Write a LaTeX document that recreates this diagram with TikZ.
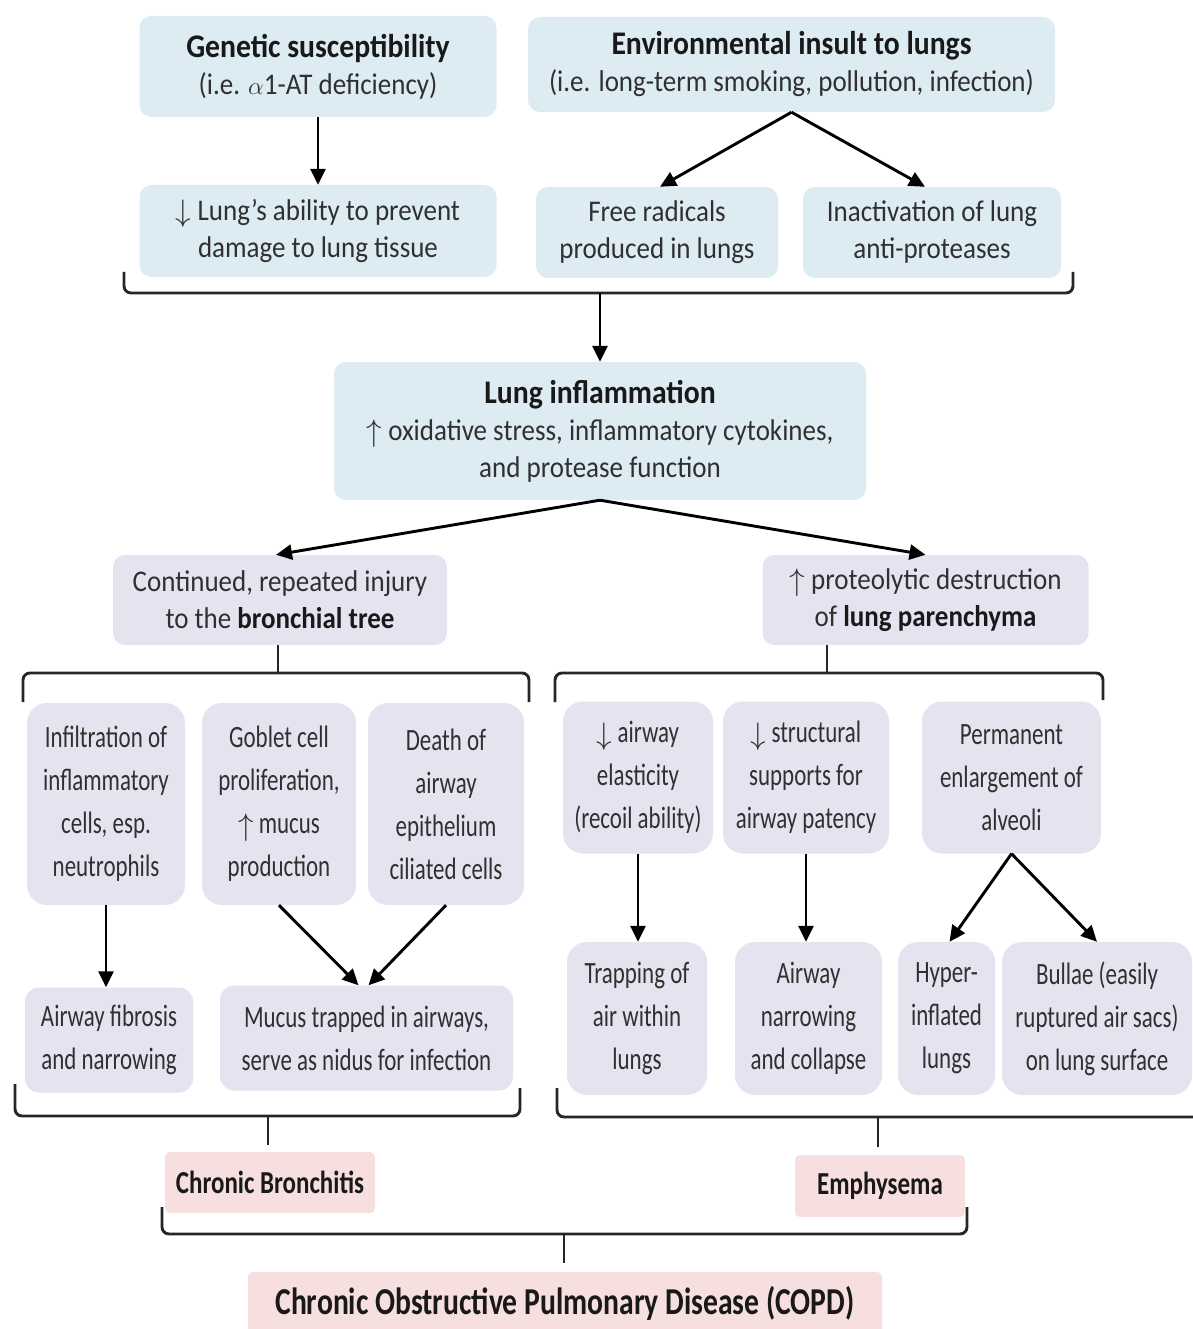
\documentclass[tikz,border=0pt]{standalone}
\usepackage{fontspec}
\setmainfont{Carlito}
\newfontfamily\topf[FakeStretch=0.9]{Carlito}
\newfontfamily\lowf[FakeStretch=0.74]{Carlito}
\newfontfamily\pinkf[FakeStretch=0.78]{Carlito}
\usetikzlibrary{arrows.meta,calc}
\definecolor{blueF}{RGB}{221,235,243}
\definecolor{lavF}{RGB}{229,227,239}
\definecolor{pinkF}{RGB}{247,223,223}
\definecolor{txt}{RGB}{48,48,48}
\definecolor{hdr}{RGB}{25,25,25}
\tikzset{
  topbox/.style={rounded corners=12pt, fill=blueF, draw=none, align=center, inner sep=0pt,
    font=\topf\fontsize{30}{37}\selectfont, text=txt},
  midbox/.style={topbox, fill=lavF},
  lowbox/.style={rounded corners=20pt, fill=lavF, draw=none, align=center, inner sep=0pt,
    font=\lowf\fontsize{31}{43}\selectfont, text=txt},
  pinkbox/.style={rounded corners=5pt, fill=pinkF, draw=none, align=center, inner sep=0pt,
    font=\pinkf\bfseries\fontsize{32}{38}\selectfont, text=hdr},
  arr/.style={line width=2.9pt, draw=black, -{Triangle[length=16pt,width=15pt]}},
  bracel/.style={line width=2.9pt, draw=black!85, rounded corners=7pt},
  tick/.style={line width=2.9pt, draw=black!85},
}
\newcommand{\hd}[1]{{\fontsize{33}{37}\selectfont\bfseries\color{hdr}#1}}
\newcommand{\bd}[1]{{\bfseries\color{hdr}#1}}
\newcommand{\dn}{\raisebox{-0.1ex}{\scalebox{1.25}{$\downarrow$}}}
\newcommand{\upa}{\raisebox{-0.1ex}{\scalebox{1.25}{$\uparrow$}}}
\begin{document}
\begin{tikzpicture}[x=1pt,y=-1pt]
\useasboundingbox (0,0) rectangle (1192,1329);
% top row
\node[topbox, minimum width=357pt, minimum height=101pt] (gen) at (318,66.5)
  {\hd{Genetic susceptibility}\\(i.e. $\alpha$1-AT deficiency)};
\node[topbox, minimum width=527pt, minimum height=95pt] (env) at (791.5,64.5)
  {\hd{Environmental insult to lungs}\\(i.e. long-term smoking, pollution, infection)};
\node[topbox, minimum width=357pt, minimum height=92pt] (lab) at (318,231)
  {\dn{} Lung’s ability to prevent\\damage to lung tissue};
\node[topbox, minimum width=242pt, minimum height=91pt] (free) at (657,232.5)
  {Free radicals\\produced in lungs};
\node[topbox, minimum width=258pt, minimum height=91pt] (inact) at (932,232.5)
  {Inactivation of lung\\anti-proteases};
\draw[arr] (gen) -- (lab);
\draw[arr] (env.south) -- ($(free.north)+(3,0)$);
\draw[arr] (env.south) -- ($(inact.north)+(-7,0)$);
% brace 1
\coordinate (b1) at (600,293);
\draw[bracel] (124,272) |- (b1) -| (1073,272);
\node[topbox, minimum width=532pt, minimum height=138pt] (infl) at (600,431)
  {\hd{Lung inflammation}\\\upa{} oxidative stress, inflammatory cytokines,\\and protease function};
\draw[arr] (b1) -- (infl.north);
% second level
\node[midbox, minimum width=334pt, minimum height=90pt] (cont) at (280,600)
  {Continued, repeated injury\\to the \bd{bronchial tree}};
\node[midbox, minimum width=326pt, minimum height=90pt] (prot) at (925.5,600)
  {\upa{} proteolytic destruction\\of \bd{lung parenchyma}};
\draw[arr] (infl.south) -- ($(cont.north)+(-4,0)$);
\draw[arr] (infl.south) -- (prot.north);
% brace 2 and 3
\coordinate (b2) at (278,673);
\coordinate (b3) at (827,673);
\draw[bracel] (23,702) |- (b2) -| (529,702);
\draw[bracel] (555,702) |- (b3) -| (1103,700);
\draw[tick] (b2) -- (b2 |- cont.south);
\draw[tick] (b3) -- (b3 |- prot.south);
% bronchitis branch
\node[lowbox, minimum width=158pt, minimum height=202pt] (infil) at (106,804)
  {Infiltration of\\inflammatory\\cells, esp.\\neutrophils};
\node[lowbox, minimum width=154pt, minimum height=202pt] (gob) at (279,804)
  {Goblet cell\\proliferation,\\\upa{} mucus\\production};
\node[lowbox, minimum width=156pt, minimum height=202pt] (death) at (446,804)
  {Death of\\airway\\epithelium\\ciliated cells};
\node[lowbox, rounded corners=14pt, minimum width=168pt, minimum height=105pt] (fib) at (109,1040)
  {Airway fibrosis\\and narrowing};
\node[lowbox, rounded corners=14pt, minimum width=293pt, minimum height=105pt] (mucus) at (366.5,1038)
  {Mucus trapped in airways,\\serve as nidus for infection};
\draw[arr] (infil.south) -- (infil.south |- fib.north);
\draw[arr] (gob.south) -- ($(mucus.north)+(-8,0)$);
\draw[arr] (death.south) -- ($(mucus.north)+(2,0)$);
% emphysema branch
\node[lowbox, minimum width=150pt, minimum height=152pt] (elast) at (638,777.5)
  {\dn{} airway\\elasticity\\(recoil ability)};
\node[lowbox, minimum width=166pt, minimum height=152pt] (struct) at (806,777.5)
  {\dn{} structural\\supports for\\airway patency};
\node[lowbox, minimum width=179pt, minimum height=152pt] (perm) at (1011.5,777.5)
  {Permanent\\enlargement of\\alveoli};
\node[lowbox, minimum width=140pt, minimum height=153pt] (trap) at (637,1018.5)
  {Trapping of\\air within\\lungs};
\node[lowbox, minimum width=147pt, minimum height=153pt] (narrow) at (808.5,1018.5)
  {Airway\\narrowing\\and collapse};
\node[lowbox, minimum width=97pt, minimum height=153pt] (hyper) at (946.5,1018.5)
  {Hyper-\\inflated\\lungs};
\node[lowbox, minimum width=190pt, minimum height=153pt] (bullae) at (1097,1018.5)
  {Bullae (easily\\ruptured air sacs)\\on lung surface};
\draw[arr] (elast.south) -- (elast.south |- trap.north);
\draw[arr] (struct.south) -- (struct.south |- narrow.north);
\draw[arr] (perm.south) -- ($(hyper.north)+(3,0)$);
\draw[arr] (perm.south) -- (bullae.north);
% bottom braces
\coordinate (b4) at (268,1116);
\coordinate (b5) at (878,1117);
\draw[bracel] (15,1084) |- (b4) -| (520,1088);
\draw[bracel] (557,1088) |- (b5) -- (1200,1117);
\node[pinkbox, minimum width=210pt, minimum height=61pt] (cb) at (270,1182.5)
  {Chronic Bronchitis};
\node[pinkbox, minimum width=170pt, minimum height=62pt] (emph) at (880,1186)
  {Emphysema};
\draw[tick, shorten >=7pt] (b4) -- (b4 |- cb.north);
\draw[tick, shorten >=8pt] (b5) -- (b5 |- emph.north);
\coordinate (b6) at (564,1234);
\draw[bracel] (162,1207) |- (b6) -| (967,1207);
\node[pinkbox, font=\pinkf\bfseries\fontsize{38}{44}\selectfont, minimum width=634pt, minimum height=62pt] (copd) at (565,1303)
  {Chronic Obstructive Pulmonary Disease (COPD)};
\draw[tick, shorten >=9pt] (b6) -- (b6 |- copd.north);
\end{tikzpicture}
\end{document}
